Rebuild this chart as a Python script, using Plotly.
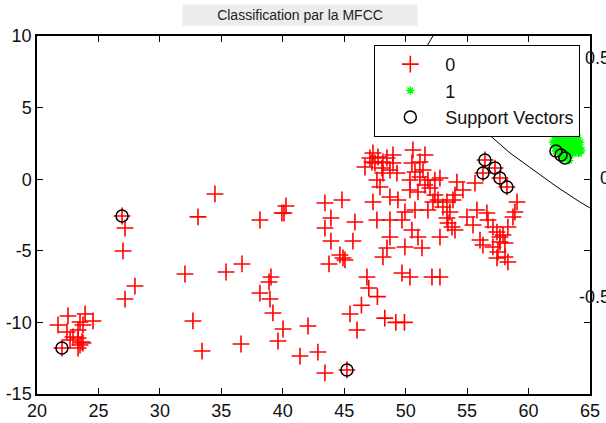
import plotly.graph_objects as go

# ---- class 0 (red +) ----
class0_x = [27.97, 27.16, 22.52, 23.91, 21.71, 24.56, 23.50, 22.44, 23.34, 23.74, 22.93, 23.34, 23.66, 23.50, 23.74, 23.34, 22.69, 22.03,
            34.48, 33.10, 26.92, 27.16, 27.00, 38.14, 39.93, 40.10, 40.26, 43.43, 44.82, 43.92, 45.87, 43.43, 43.92, 45.71, 44.65, 44.90, 45.06, 43.76,
            32.04, 35.38, 36.68, 39.04, 38.88, 38.14, 38.96, 39.20, 40.02, 39.61, 42.05, 41.40, 42.86, 43.43, 45.22, 45.47, 46.04, 32.69, 33.43, 36.60,
            47.34, 47.09, 47.75, 48.15, 46.69, 47.50, 48.48, 48.97, 48.97, 48.72, 48.15, 49.29, 47.66, 47.91, 48.07, 47.26,
            50.59, 51.57, 51.16, 50.51, 50.76, 51.41, 50.35, 51.16, 51.81, 51.57, 52.38, 52.79, 51.98, 50.35, 51.00, 52.38, 52.22, 52.63,
            54.17, 55.64, 54.66, 54.01, 53.85, 53.36,
            53.03, 53.60, 53.36, 53.77, 53.44, 54.01, 54.99, 55.48, 55.80, 56.61, 56.70, 57.10, 57.43, 57.67, 57.92, 58.32, 57.67, 58.08,
            57.10, 57.51, 58.08, 57.43, 58.32, 56.05, 56.29, 59.06, 58.89, 58.73,
            56.45, 56.29, 57.27, 57.67, 58.24,
            47.34, 48.72, 49.37, 49.94, 50.76, 51.81, 47.66, 48.72, 49.70, 50.51, 51.00, 48.72, 49.94, 51.33, 52.79, 48.48, 48.15,
            46.85, 49.70, 50.35, 52.14, 52.79,
            47.0, 47.7, 46.4, 48.3, 49.2, 49.9]
class0_y = [-7.46, -8.37, -9.55, -9.41, -10.18, -9.90, -9.97, -10.67, -10.53, -10.18, -11.02, -11.09, -11.37, -11.58, -11.44, -11.79, -11.23, -11.79,
            -1.03, -2.63, -2.57, -3.41, -5.01, -2.85, -2.36, -2.36, -1.87, -1.66, -1.45, -2.71, -2.99, -3.41, -4.32, -4.32, -5.29, -5.50, -5.64, -5.92,
            -6.62, -6.48, -5.92, -6.83, -7.18, -7.95, -8.37, -9.34, -10.46, -11.30, -10.25, -12.35, -12.07, -13.53, -13.32, -9.41, -10.53, -9.90, -12.00, -11.51,
            1.83, 1.48, 1.55, 1.20, 0.85, 1.13, 1.48, 1.69, 1.13, 0.64, 0.43, 0.43, -0.06, -0.54, 0.78, 1.20,
            2.04, 1.69, 1.20, 1.13, 0.50, 0.64, -0.06, 0.15, -0.06, -0.41, -0.06, 0.08, -0.61, -0.75, -0.89, -1.10, -1.59, -1.45,
            -0.20, -0.27, -0.75, -1.10, -1.45, -1.59,
            -1.94, -2.29, -2.71, -3.34, -3.06, -3.55, -2.64, -3.20, -2.15, -2.36, -2.85, -3.34, -3.69, -4.04, -3.90, -3.34, -4.39, -4.46,
            -4.73, -5.08, -5.43, -5.50, -5.78, -4.25, -4.60, -1.59, -2.29, -2.64,
            1.34, 0.43, 0.78, 0.08, -0.54,
            -1.59, -1.24, -1.45, -2.29, -2.15, -2.15, -2.85, -2.85, -2.85, -3.55, -4.04, -4.04, -4.73, -4.80, -4.04, -4.80, -5.43,
            -6.83, -6.55, -6.83, -6.83, -6.83,
            -7.6, -8.2, -8.8, -9.7, -10.0, -10.0]

# ---- class 1 (green *) ----
class1_x = [62.2, 62.4, 62.6, 62.8, 63.0, 63.2, 63.4, 63.6, 63.1, 62.9, 62.7, 62.5, 62.3, 62.1, 62.4, 62.6, 62.8, 63.0, 63.2, 63.4,
            63.6, 63.8, 64.0, 64.2, 63.9, 63.7, 63.5, 63.3, 63.1, 62.9, 62.7, 62.5, 63.0, 63.2, 63.4, 63.6, 63.8, 64.1, 64.3, 62.2,
            62.0, 62.3, 63.5, 62.9, 62.7, 63.3, 64.0, 64.2, 63.7, 62.6, 63.1, 63.5, 62.4, 63.3, 62.8,
            62.23, 62.64, 62.96]
class1_y = [2.9, 3.1, 3.2, 3.0, 3.3, 3.1, 2.9, 3.0, 2.7, 2.6, 2.8, 2.6, 2.5, 2.4, 2.2, 2.3, 2.2, 2.4, 2.5, 2.6,
            2.5, 2.7, 2.4, 2.2, 2.1, 2.2, 2.1, 2.0, 1.9, 1.8, 1.9, 2.0, 1.6, 1.5, 1.7, 1.8, 1.9, 1.8, 2.0, 2.2,
            2.6, 2.8, 3.3, 3.4, 3.5, 3.5, 2.9, 2.6, 3.1, 2.6, 2.2, 2.4, 1.9, 1.3, 1.4,
            1.97, 1.69, 1.48]

# ---- support vectors ----
sv_x = [22.03, 26.92, 45.22, 56.45, 56.29, 57.27, 57.67, 58.24, 62.23, 62.64, 62.96]
sv_y = [-11.79, -2.57, -13.32, 1.34, 0.43, 0.78, 0.08, -0.54, 1.97, 1.69, 1.48]

# ---- decision boundary ----
boundary_x = [52.22, 51.73, 51.9, 53.0, 54.8, 56.62, 58.49, 60.11, 62.31, 64.18, 65.0]
boundary_y = [10.0, 9.30, 7.5, 5.5, 4.2, 3.23, 1.83, 0.85, -0.54, -1.59, -2.01]

# ---- axis ticks ----
x_ticks = [20, 25, 30, 35, 40, 45, 50, 55, 60, 65]
y_ticks = [-15, -10, -5, 0, 5, 10]
right_ticks = [0.5, 0, -0.5]
right_labels = ["0.5", "0", "-0.5"]

title_text = "Classification par la MFCC"
FONT = "Liberation Sans, Arial, sans-serif"

fig = go.Figure()
fig.add_trace(go.Scatter(x=boundary_x, y=boundary_y, mode="lines", line=dict(color="black", width=1),
                         showlegend=False, hoverinfo="skip"))
fig.add_trace(go.Scatter(x=class0_x, y=class0_y, mode="markers", name="0",
                         marker=dict(symbol="cross-thin-open", size=12, color="#ff0000",
                                     line=dict(color="#ff0000", width=1.6))))
fig.add_trace(go.Scatter(x=class1_x, y=class1_y, mode="markers", name="1",
                         marker=dict(symbol="asterisk-open", size=7, color="#00ff00",
                                     line=dict(color="#00ff00", width=1.4))))
fig.add_trace(go.Scatter(x=sv_x, y=sv_y, mode="markers", name="Support Vectors",
                         marker=dict(symbol="circle-open", size=12, color="black",
                                     line=dict(color="black", width=1.5))))
# hidden helper axis for the right-hand labels
fig.add_trace(go.Scatter(x=[None], y=[None], yaxis="y2", showlegend=False, hoverinfo="skip"))

for v, t in zip(right_ticks, right_labels):
    fig.add_annotation(x=1.04, xref="paper", y=v, yref="y2", text=t, showarrow=False,
                       xanchor="right", yanchor="middle", font=dict(family=FONT, size=18, color="#111"))

fig.add_annotation(x=0.475, xref="paper", y=1.058, yref="paper", text=title_text, showarrow=False,
                   xanchor="center", yanchor="middle", bgcolor="#ececec", width=232, height=18, borderpad=1,
                   font=dict(family=FONT, size=14, color="#222"))

axis_common = dict(showgrid=False, zeroline=False, showline=True, linecolor="black", linewidth=1.5,
                   mirror="ticks", ticks="inside", ticklen=6, tickcolor="black", tickwidth=1,
                   automargin=False, tickfont=dict(family=FONT, size=18, color="#111"))
fig.update_layout(
    width=606, height=423,
    margin=dict(l=37, r=16, t=36, b=29),
    paper_bgcolor="white", plot_bgcolor="white",
    xaxis=dict(range=[20, 65], tickvals=x_ticks, ticktext=[str(v) for v in x_ticks], **axis_common),
    yaxis=dict(range=[-15, 10], tickvals=y_ticks, ticktext=[str(v) for v in y_ticks], **axis_common),
    yaxis2=dict(range=[-0.904, 0.594], overlaying="y", side="right", visible=False, automargin=False),
    showlegend=True,
    legend=dict(x=0.61, y=0.975, xanchor="left", yanchor="top", bgcolor="white",
                bordercolor="black", borderwidth=1, font=dict(family=FONT, size=18, color="#111"),
                itemwidth=60),
)
# remove the default 8 px page margin so the 606x423 figure fills the window exactly
fig.write_html("out.html", config={"displayModeBar": False},
               post_script="document.body.style.margin='0';document.body.style.overflow='hidden';")
